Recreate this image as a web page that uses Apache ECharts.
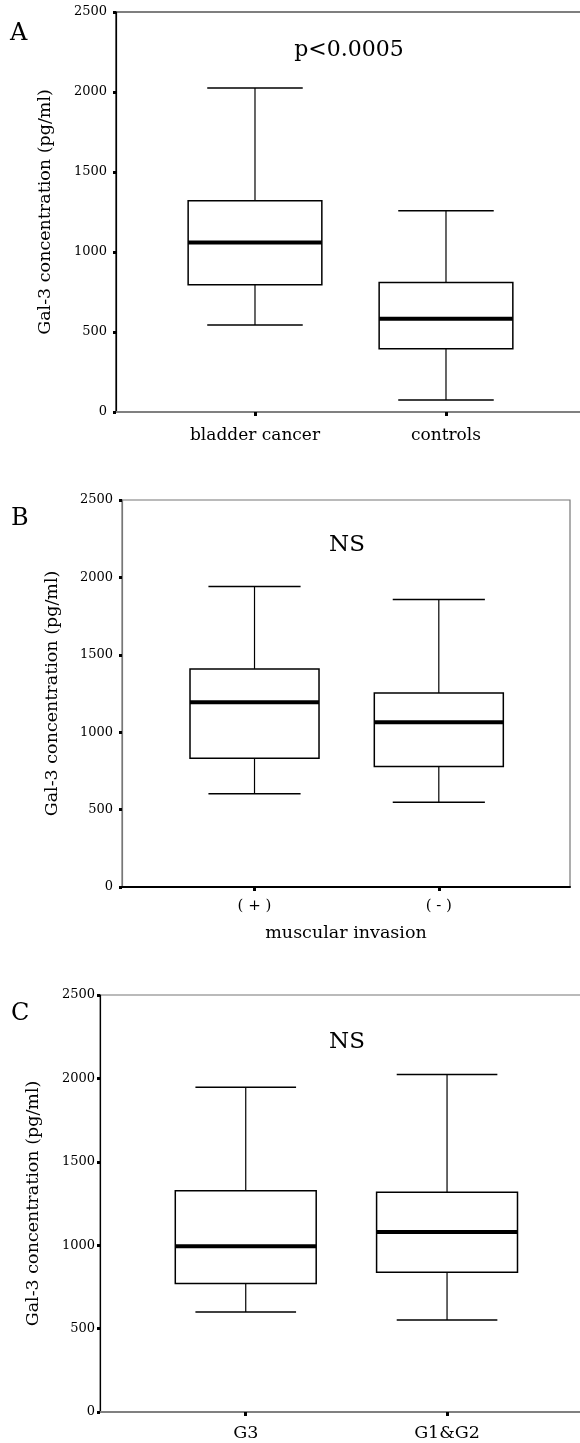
<!DOCTYPE html>
<html>
<head>
<meta charset="utf-8">
<script src="https://cdn.jsdelivr.net/npm/echarts@6/dist/echarts.min.js"></script>
<style>
  html, body { margin: 0; padding: 0; background: #fff; }
  #main { width: 580px; height: 1443px; }
</style>
</head>
<body>
<div id="main"></div>
<script>
// box data: [lower whisker, Q1, median, Q3, upper whisker]
var catA = ['bladder cancer', 'controls'];
var boxA = [[544, 796, 1060, 1321, 2025], [75, 396, 583, 810, 1258]];

var catB = ['( + )', '( - )'];
var boxB = [[603, 832, 1193, 1409, 1942], [547, 778, 1065, 1253, 1858]];

var catC = ['G3', 'G1&G2'];
var boxC = [[600, 770, 993, 1327, 1947], [551, 838, 1079, 1318, 2023]];

var yName = 'Gal-3 concentration (pg/ml)';
var FONT = '"DejaVu Serif", serif';
var BOX_HALF = 0.35, CAP_HALF = 0.25;

function toSeriesData(rows) {
    return rows.map(function (r, i) { return [i + 1].concat(r); });
}

function renderBox(params, api) {
    var x = api.value(0);
    var lo = api.coord([x, api.value(1)]);
    var q1 = api.coord([x, api.value(2)]);
    var md = api.coord([x, api.value(3)]);
    var q3 = api.coord([x, api.value(4)]);
    var hi = api.coord([x, api.value(5)]);
    var bL = api.coord([x - BOX_HALF, 0])[0], bR = api.coord([x + BOX_HALF, 0])[0];
    var cL = api.coord([x - CAP_HALF, 0])[0], cR = api.coord([x + CAP_HALF, 0])[0];
    var thin = { stroke: '#000', lineWidth: 1.2 };
    return {
        type: 'group',
        children: [
            { type: 'line', shape: { x1: hi[0], y1: hi[1], x2: q3[0], y2: q3[1] }, style: thin },
            { type: 'line', shape: { x1: lo[0], y1: lo[1], x2: q1[0], y2: q1[1] }, style: thin },
            { type: 'line', shape: { x1: cL, y1: hi[1], x2: cR, y2: hi[1] }, style: { stroke: '#000', lineWidth: 1.5 } },
            { type: 'line', shape: { x1: cL, y1: lo[1], x2: cR, y2: lo[1] }, style: { stroke: '#000', lineWidth: 1.5 } },
            { type: 'rect', shape: { x: bL, y: q3[1], width: bR - bL, height: q1[1] - q3[1] },
              style: { fill: '#fff', stroke: '#000', lineWidth: 1.5 } },
            { type: 'line', shape: { x1: bL, y1: md[1], x2: bR, y2: md[1] }, style: { stroke: '#000', lineWidth: 4 } }
        ]
    };
}

function yAxisOf(idx, color, gap, margin) {
    return {
        type: 'value', gridIndex: idx, min: 0, max: 2500, interval: 500,
        name: yName, nameLocation: 'middle', nameRotate: 90, nameGap: gap,
        nameTextStyle: { fontFamily: FONT, fontSize: 17.5, color: '#000' },
        axisLine: { show: true, lineStyle: { color: color, width: 1.2 } },
        axisTick: { show: true, length: 3, lineStyle: { color: '#000', width: 3 } },
        axisLabel: { fontFamily: FONT, fontSize: 13, color: '#000', margin: margin,
                     formatter: function (v) { return String(v); } },
        splitLine: { show: false }
    };
}

function xAxisOf(idx, cats, min, max, color, fs, margin) {
    return {
        type: 'value', gridIndex: idx, min: min, max: max,
        axisLine: { show: true, onZero: false, lineStyle: { color: color, width: 2 } },
        axisTick: { show: true, customValues: [1, 2], length: 4, lineStyle: { color: '#000', width: 3 } },
        axisLabel: {
            customValues: [1, 2], fontFamily: FONT, fontSize: fs, color: '#000', margin: margin,
            formatter: function (v) { return cats[Math.round(v) - 1]; }
        },
        splitLine: { show: false }
    };
}

var chart = echarts.init(document.getElementById('main'));
var option = {
    backgroundColor: '#fff',
    animation: false,
    grid: [
        { left: 116, top: 12, width: 470, height: 400, show: true, borderColor: '#000', borderWidth: 1.2,
          backgroundColor: 'transparent', outerBoundsMode: 'none' },
        { left: 122, top: 500, width: 448, height: 387, show: true, borderColor: '#777', borderWidth: 1.2,
          backgroundColor: 'transparent', outerBoundsMode: 'none' },
        { left: 100, top: 995, width: 486, height: 417, show: true, borderColor: '#777', borderWidth: 1.2,
          backgroundColor: 'transparent', outerBoundsMode: 'none' }
    ],
    xAxis: [
        xAxisOf(0, catA, 0.2723, 0.2723 + 470 / 191, '#808080', 17, 15),
        (function () {
            var ax = xAxisOf(1, catB, 0.281, 0.281 + 448 / 184.3, '#000', 15, 12);
            ax.name = 'muscular invasion';
            ax.nameLocation = 'middle';
            ax.nameGap = 37;
            ax.nameTextStyle = { fontFamily: FONT, fontSize: 17.5, color: '#000' };
            return ax;
        })(),
        xAxisOf(2, catC, 0.276, 0.276 + 486 / 201.3, '#808080', 17.5, 12)
    ],
    yAxis: [
        yAxisOf(0, '#000', 62, 9),
        yAxisOf(1, '#777', 61, 9),
        yAxisOf(2, '#000', 58, 5)
    ],
    graphic: [
        { type: 'text', left: 10, top: 22, style: { text: 'A', font: '24px ' + FONT, fill: '#000' } },
        { type: 'text', left: 11, top: 507, style: { text: 'B', font: '24px ' + FONT, fill: '#000' } },
        { type: 'text', left: 11, top: 1002, style: { text: 'C', font: '24px ' + FONT, fill: '#000' } },
        { type: 'text', x: 349, y: 50, style: { text: 'p<0.0005', font: '22px ' + FONT, fill: '#000', align: 'center', verticalAlign: 'middle' } },
        { type: 'text', x: 347, y: 545, style: { text: 'NS', font: '23px ' + FONT, fill: '#000', align: 'center', verticalAlign: 'middle' } },
        { type: 'text', x: 347, y: 1042, style: { text: 'NS', font: '23px ' + FONT, fill: '#000', align: 'center', verticalAlign: 'middle' } }
    ],
    series: [
        { type: 'custom', xAxisIndex: 0, yAxisIndex: 0, renderItem: renderBox, encode: { x: 0, y: [1, 2, 3, 4, 5] }, data: toSeriesData(boxA) },
        { type: 'custom', xAxisIndex: 1, yAxisIndex: 1, renderItem: renderBox, encode: { x: 0, y: [1, 2, 3, 4, 5] }, data: toSeriesData(boxB) },
        { type: 'custom', xAxisIndex: 2, yAxisIndex: 2, renderItem: renderBox, encode: { x: 0, y: [1, 2, 3, 4, 5] }, data: toSeriesData(boxC) }
    ]
};
chart.setOption(option);
</script>
</body>
</html>
